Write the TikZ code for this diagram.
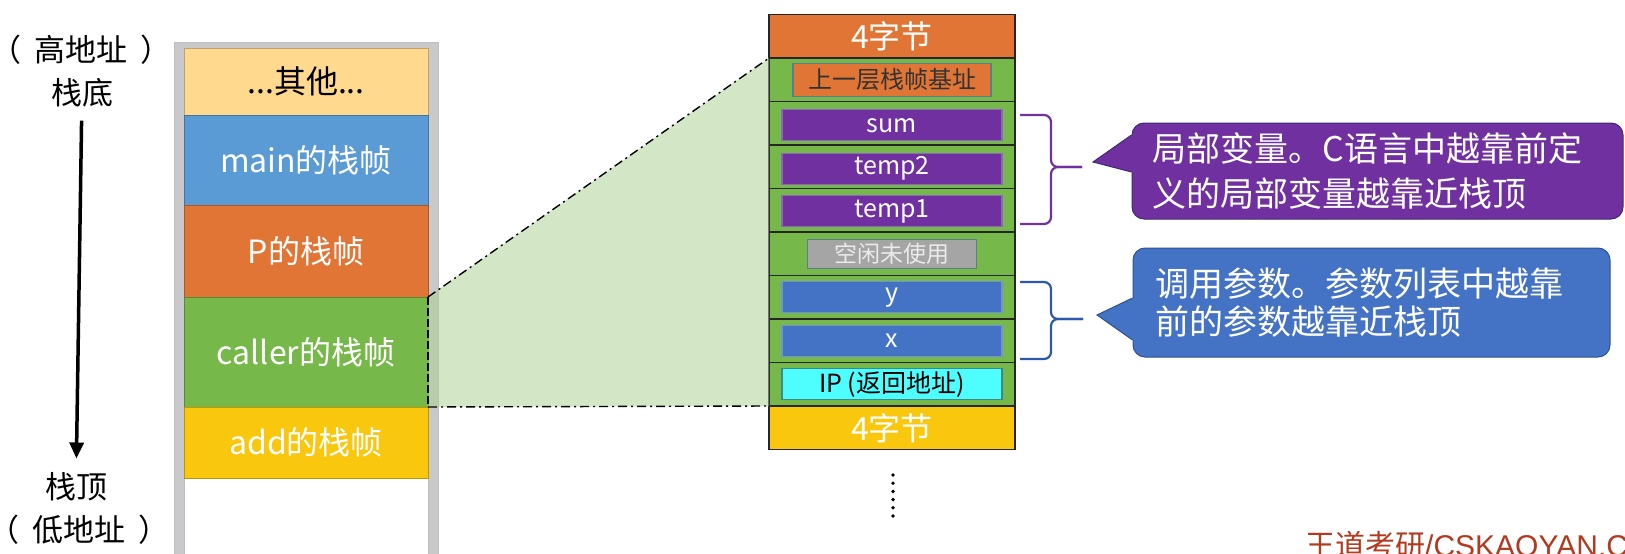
\documentclass[tikz,border=0pt]{standalone}
\usepackage{fontspec}
\setmainfont{Noto Sans CJK SC}
\newfontfamily\markfont{Liberation Sans}
\usetikzlibrary{arrows.meta,positioning}

\definecolor{othercol}{HTML}{FFD98E}
\definecolor{maincol}{HTML}{5B9BD5}
\definecolor{pcol}{HTML}{E07535}
\definecolor{callercol}{HTML}{77B84A}
\definecolor{addcol}{HTML}{F9C70D}
\definecolor{framecol}{HTML}{C9C9CB}
\definecolor{zoomcol}{HTML}{A9D18E}
\definecolor{varcol}{HTML}{7030A0}
\definecolor{varedge}{HTML}{3E2A78}
\definecolor{varline}{HTML}{8A66BE}
\definecolor{argcol}{HTML}{4472C4}
\definecolor{argedge}{HTML}{2F528F}
\definecolor{argline}{HTML}{6E93D6}
\definecolor{argbrace}{HTML}{2E58A8}
\definecolor{idlecol}{HTML}{A5A5A5}
\definecolor{steel}{HTML}{5B7D8E}
\definecolor{ipcol}{HTML}{4EFDFD}
\definecolor{ipedge}{HTML}{3A8A8A}
\definecolor{markcol}{HTML}{B23A1E}

\begin{document}
\begin{tikzpicture}[x=1pt, y=-1pt,
  blk/.style={draw=#1!75!black, fill=#1, line width=1pt, minimum width=244pt, inner sep=0pt, outer sep=0pt, text=white, font=\fontsize{32}{36}\selectfont},
  framerow/.style={draw=black!85, fill=#1, line width=1.3pt, minimum width=246pt, minimum height=43.5pt, inner sep=0pt, outer sep=0pt, text=white, font=\fontsize{32}{36}\selectfont},
  slot/.style={fill=#1, line width=1.2pt, minimum width=220pt, minimum height=31pt, inner sep=0pt, text=white, font=\fontsize{25}{28}\selectfont},
  lbl/.style={font=\fontsize{31}{34}\selectfont, inner sep=0pt},
  note/.style={rounded corners=12pt, line width=1pt, text=white, align=left, inner sep=0pt},
  brc/.style={line width=2.2pt, rounded corners=7pt},
  zoomln/.style={line width=1.4pt, dash pattern=on 9pt off 4pt on 2pt off 4pt},
  arr/.style={-{Triangle[length=16pt, width=14pt]}, line width=3.5pt}
]
\useasboundingbox (0,0) rectangle (1625,554);
\clip (0,0) rectangle (1625,554);
\fill[white] (0,0) rectangle (1625,554);

\filldraw[fill=framecol, draw=black!25, line width=0.6pt] (174,554) -- (174,42) -- (438,42) -- (438,554)
  -- (428,554) -- (428,48) -- (184,48) -- (184,554) -- cycle;

\node[blk=othercol, minimum height=67pt, text=black] (others) at (306,81.5) {...其他...};
\node[blk=maincol, minimum height=90pt, below=0pt of others] (mainf) {main的栈帧};
\node[blk=pcol, minimum height=92pt, below=0pt of mainf] (pf) {P的栈帧};
\node[blk=callercol, minimum height=110pt, below=0pt of pf] (callerf) {caller的栈帧};
\node[blk=addcol, minimum height=71pt, below=0pt of callerf] (addf) {add的栈帧};

\node[lbl] (hiaddr) at (81,50) {（\kern13pt 高地址\kern13pt ）};
\node[lbl] (sbase) at (82,93) {栈底};
\node[lbl] (stop) at (76,487) {栈顶};
\node[lbl] (loaddr) at (79,530) {（\kern13pt 低地址\kern13pt ）};
\draw[arr, shorten <=13pt, shorten >=14pt] (sbase) -- (stop);

\node[framerow=pcol] (r1) at (892,36.25) {4字节};
\node[framerow=callercol, below=0pt of r1] (r2) {};
\node[framerow=callercol, below=0pt of r2] (r3) {};
\node[framerow=callercol, below=0pt of r3] (r4) {};
\node[framerow=callercol, below=0pt of r4] (r5) {};
\node[framerow=callercol, below=0pt of r5] (r6) {};
\node[framerow=callercol, below=0pt of r6] (r7) {};
\node[framerow=callercol, below=0pt of r7] (r8) {};
\node[framerow=callercol, below=0pt of r8] (r9) {};
\node[framerow=addcol, below=0pt of r9] (r10) {4字节};

\fill[zoomcol, fill opacity=0.5] (callerf.north east) -- (r2.north west) -- (r9.south west) -- (callerf.south east) -- cycle;
\draw[zoomln] (callerf.north east) -- (r2.north west);
\draw[zoomln] (callerf.south east) -- (r9.south west);
\draw[line width=1.4pt, dash pattern=on 8pt off 3pt] (callerf.north east) -- (callerf.south east);

\node[slot=pcol, draw=steel, minimum width=198pt, minimum height=33pt, text=black!80, font=\fontsize{24}{28}\selectfont] (prevbp) at (r2) {上一层栈帧基址};
\node[slot=varcol, draw=varline, yshift=-2pt] (vsum) at (r3) {sum};
\node[slot=varcol, draw=varline, yshift=-2pt] (vtemp2) at (r4) {temp2};
\node[slot=varcol, draw=varline, yshift=-1pt] (vtemp1) at (r5) {temp1};
\node[slot=idlecol, draw=steel, minimum width=169pt, minimum height=29pt, text=white!92!black, font=\fontsize{23}{26}\selectfont] (idle) at (r6) {空闲未使用};
\node[slot=argcol, draw=argline] (argy) at (r7) {y};
\node[slot=argcol, draw=argline] (argx) at (r8) {x};
\node[slot=ipcol, draw=ipedge, text=black] (retip) at (r9) {IP (返回地址)};

\foreach \k in {0,...,5} \fill (893,475+8.2*\k) circle (1.9pt);

\coordinate (vtop) at (1020,115);
\coordinate (vbot) at (1020,224);
\coordinate (vtip) at (1082,167);
\draw[brc, varcol] (vtop) -| (1051,167) -- (vtip);
\draw[brc, varcol] (vbot) -| (1051,167) -- (vtip);

\coordinate (atop) at (1020,282);
\coordinate (abot) at (1020,359);
\coordinate (atip) at (1083,319);
\draw[brc, argbrace] (atop) -| (1051,319) -- (atip);
\draw[brc, argbrace] (abot) -| (1051,319) -- (atip);

\node[note, fill=varcol, draw=varedge, minimum width=491pt, minimum height=96pt, text width=450pt,
  font=\fontsize{34}{45}\selectfont] (varnote) at (1377.5,171) {局部变量。C语言中越靠前定\\义的局部变量越靠近栈顶};
\coordinate (vptr) at (1093,162);
\fill[varcol] ([xshift=6pt, yshift=36pt]varnote.west) -- ([yshift=36pt]varnote.west) -- (vptr)
  -- ([yshift=-1pt]varnote.west) -- ([xshift=6pt, yshift=-1pt]varnote.west) -- cycle;
\draw[varedge, line width=1pt] ([yshift=36pt]varnote.west) -- (vptr) -- ([yshift=-1pt]varnote.west);

\node[note, fill=argcol, draw=argedge, minimum width=477pt, minimum height=109pt, text width=432pt,
  font=\fontsize{34}{38}\selectfont] (argnote) at (1371.5,302.5) {调用参数。参数列表中越靠\\前的参数越靠近栈顶};
\coordinate (aptr) at (1097,315);
\fill[argcol] ([xshift=6pt, yshift=4.5pt]argnote.west) -- ([yshift=4.5pt]argnote.west) -- (aptr)
  -- ([yshift=-37.5pt]argnote.west) -- ([xshift=6pt, yshift=-37.5pt]argnote.west) -- cycle;
\draw[argedge, line width=1pt] ([yshift=4.5pt]argnote.west) -- (aptr) -- ([yshift=-37.5pt]argnote.west);

\node[anchor=base west, inner sep=0pt, text=markcol, font=\fontsize{30}{34}\selectfont] (mark) at (1305,556) {王道考研{\markfont /CSKAOYAN.COM}};
\end{tikzpicture}
\end{document}
